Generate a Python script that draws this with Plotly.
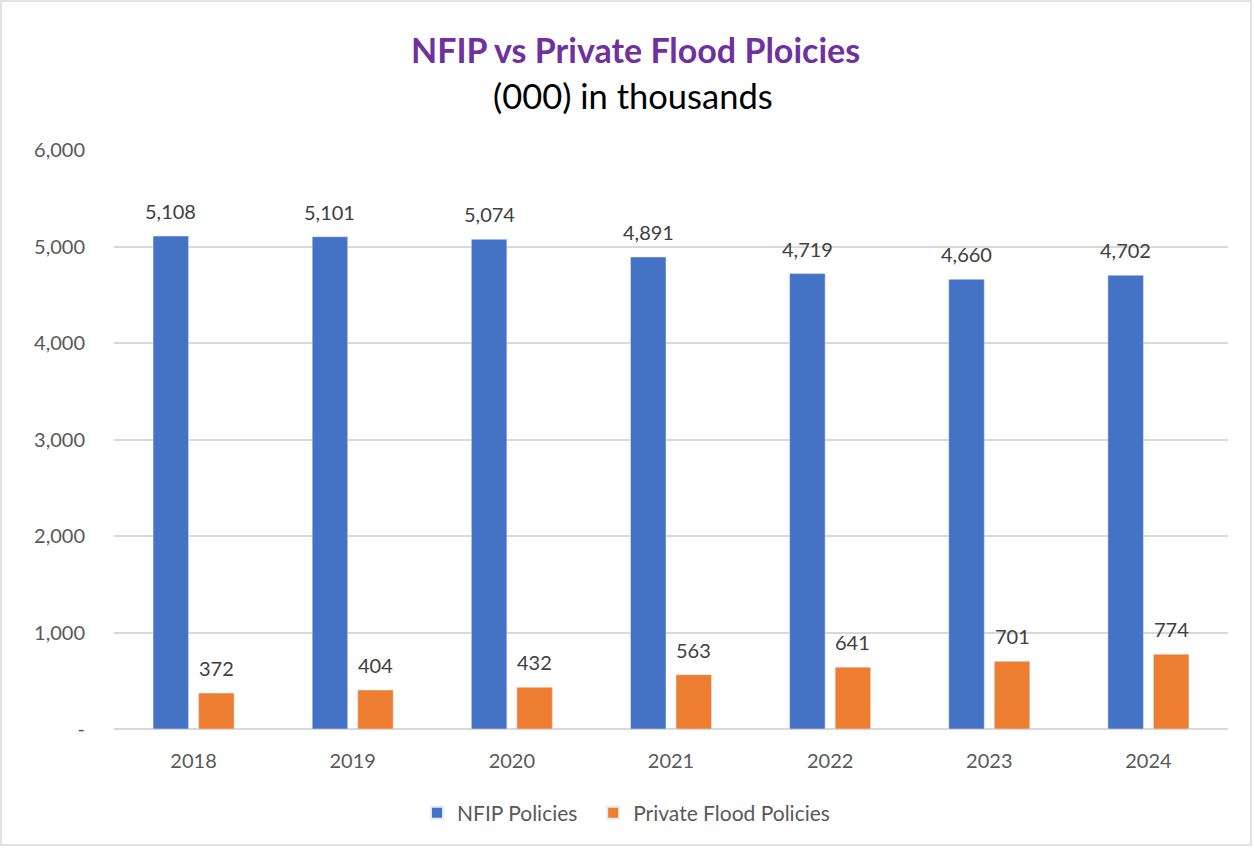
import plotly.graph_objects as go

years = ["2018", "2019", "2020", "2021", "2022", "2023", "2024"]
nfip = [5108, 5101, 5074, 4891, 4719, 4660, 4702]
private = [372, 404, 432, 563, 641, 701, 774]
y_ticks = [0, 1000, 2000, 3000, 4000, 5000, 6000]
y_tick_labels = ["-", "1,000", "2,000", "3,000", "4,000", "5,000", "6,000"]

FONT = "Lato, 'Open Sans', sans-serif"
GRAY = "#595959"

W, H = 1254, 848
L, R, T, B = 114, 26, 150, 119
pw, ph = W - L - R, H - T - B

def px(x):
    return (x - L) / pw

def py(y):
    return (H - B - y) / ph

BARGAP, GROUPGAP = 0.428, 0.22

fig = go.Figure()
fig.add_trace(go.Bar(
    x=years, y=nfip, name="NFIP Policies\u00a0\u00a0", marker_color="#4472C4",
))
fig.add_trace(go.Bar(
    x=years, y=private, name="Private Flood Policies", marker_color="#ED7D31",
))

annotations = []
# data labels, positioned through the axes (category index + group shift)
slot = pw / len(years) * (1 - BARGAP) / 2
shift_px = slot / 2
for series, sh in ((nfip, -shift_px), (private, shift_px)):
    for i, v in enumerate(series):
        annotations.append(dict(
            x=i, y=v, xref="x", yref="y", text=f"{v:,}", showarrow=False,
            xshift=sh, yshift=25, yanchor="middle", xanchor="center",
            font=dict(size=20, color="#404040", family=FONT)))

annotations += [
    dict(text="<b>NFIP vs Private Flood Ploicies</b>", x=px(635), y=py(50),
         xref="paper", yref="paper", showarrow=False, xanchor="center", yanchor="middle",
         font=dict(size=34, color="#7030A0", family=FONT)),
    dict(text="(000) in thousands", x=px(633), y=py(95),
         xref="paper", yref="paper", showarrow=False, xanchor="center", yanchor="middle",
         font=dict(size=34.5, color="#000000", family=FONT)),
]

fig.update_layout(
    width=W, height=H,
    margin=dict(l=L, r=R, t=T, b=B, autoexpand=False),
    paper_bgcolor="white", plot_bgcolor="white",
    barmode="group", bargap=BARGAP, bargroupgap=GROUPGAP,
    font=dict(family=FONT, color=GRAY, size=18),
    showlegend=True,
    legend=dict(orientation="h", x=px(417), xanchor="left", y=py(813), yanchor="middle",
                font=dict(size=21, color=GRAY, family=FONT), itemsizing="constant",
                traceorder="normal", itemwidth=30),
    xaxis=dict(type="category", range=[-0.5, len(years) - 0.5], autorange=False,
               showgrid=False, showline=False, ticks="",
               ticklabelstandoff=18, tickfont=dict(size=20, color=GRAY)),
    yaxis=dict(range=[0, 6000], autorange=False, tickvals=y_ticks, ticktext=y_tick_labels,
               showgrid=True, gridcolor="#D9D9D9", gridwidth=1.5,
               zeroline=True, zerolinecolor="#D9D9D9", zerolinewidth=1.5,
               showline=False, ticks="", ticklabelstandoff=28,
               tickfont=dict(size=20, color=GRAY)),
    annotations=annotations,
    shapes=[dict(type="rect", xref="paper", yref="paper",
                 x0=px(1), x1=px(1251), y0=py(845), y1=py(1),
                 line=dict(color="#D9D9D9", width=1.5), layer="below")],
)

fig.write_html("out.html", config={"displayModeBar": False},
               post_script="document.body.style.margin='0';document.body.style.overflow='hidden';")
